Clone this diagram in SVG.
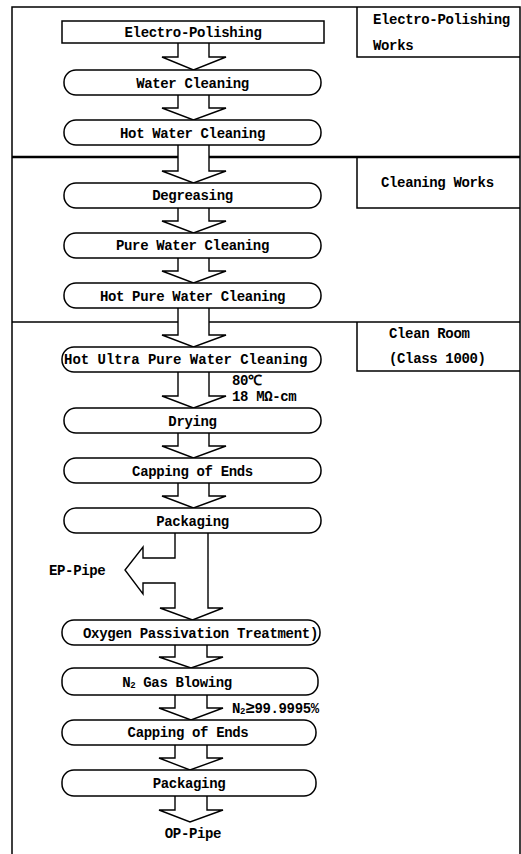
<svg xmlns="http://www.w3.org/2000/svg" width="521" height="854" viewBox="0 0 521 854">
<style>
.t{font-family:"Liberation Mono","DejaVu Sans Mono",monospace;font-weight:bold;font-size:14px;letter-spacing:-0.35px;fill:#000}
.c{text-anchor:middle}
.b{fill:#fff;stroke:#000;stroke-width:1.5}
.ln{stroke:#000;stroke-width:1.5;fill:none}
.ar{fill:#fff;stroke:#000;stroke-width:1.4;stroke-linejoin:miter}
</style>
<rect width="521" height="854" fill="#fff"/>
<g id="frame">
<path class="ln" d="M12,854 V7 H520 V854"/>
<line x1="12" y1="157" x2="520" y2="157" stroke="#000" stroke-width="2.5"/>
<line x1="12" y1="322" x2="520" y2="322" stroke="#000" stroke-width="1.5"/>
<path class="ln" d="M357,7 V57 H520"/>
<path class="ln" d="M357,157 V208 H520"/>
<path class="ln" d="M357,322 V371 H520"/>
</g>
<g id="labels">
<text class="t" x="373" y="24">Electro-Polishing</text>
<text class="t" x="373" y="50">Works</text>
<text class="t" x="381" y="187">Cleaning Works</text>
<text class="t" x="389" y="338">Clean Room</text>
<text class="t" x="389" y="363">(Class 1000)</text>
</g>
<g id="connectors">
<path class="ar" d="M178,43 V57 H162 L193.5,70 L226,57 H209 V43"/>
<path class="ar" d="M178,95 V108 H162 L193.5,120 L226,108 H209 V95"/>
<path class="ar" d="M178,145 V171 H162 L193.5,183 L226,171 H209 V145"/>
<path class="ar" d="M178,208 V221 H162 L193.5,233 L226,221 H209 V208"/>
<path class="ar" d="M178,258 V271 H162 L193.5,283 L226,271 H209 V258"/>
<path class="ar" d="M178,308 V335 H162 L193.5,347 L226,335 H209 V308"/>
<path class="ar" d="M178,372 V396 H162 L193.5,408 L226,396 H209 V372"/>
<path class="ar" d="M178,433 V446 H162 L193.5,458 L226,446 H209 V433"/>
<path class="ar" d="M178,483 V496 H162 L193.5,508 L226,496 H209 V483"/>
<path class="ar" d="M175,533 V558 H143 V547 L125,570 L143,594 V583 H175 V608 H160 L192.5,620 L223,608 H208 V533"/>
<path class="ar" d="M175,645 V657 H159 L191,668 L223,657 H207 V645"/>
<path class="ar" d="M175,695 V708 H159 L191,720 L223,708 H207 V695"/>
<path class="ar" d="M175,745 V758 H159 L190,770 L223,758 H207 V745"/>
<path class="ar" d="M175,796 V810 H159 L190,822 L223,810 H207 V796"/>
<text class="t" x="232" y="385">80℃</text>
<text class="t" x="232" y="401">18 MΩ-cm</text>
<text class="t" x="49" y="575">EP-Pipe</text>
<text class="t" x="232" y="713">N<tspan font-size="9" dy="1">2</tspan><tspan dy="-1" font-size="16">≥</tspan>99.9995%</text>
<text class="t c" x="193" y="838">OP-Pipe</text>
</g>
<g id="n1"><rect class="b" x="62" y="21" width="262" height="22"/><text class="t c" x="193" y="37">Electro-Polishing</text></g>
<g id="n2"><rect class="b" x="64" y="70" width="257" height="25" rx="12"/><text class="t c" x="192.5" y="87.5">Water Cleaning</text></g>
<g id="n3"><rect class="b" x="64" y="120" width="257" height="25" rx="12"/><text class="t c" x="192.5" y="137.5">Hot Water Cleaning</text></g>
<g id="n4"><rect class="b" x="64" y="183" width="257" height="25" rx="12"/><text class="t c" x="192.5" y="200">Degreasing</text></g>
<g id="n5"><rect class="b" x="64" y="233" width="257" height="25" rx="12"/><text class="t c" x="192.5" y="250">Pure Water Cleaning</text></g>
<g id="n6"><rect class="b" x="64" y="283" width="257" height="25" rx="12"/><text class="t c" x="192.5" y="300.5">Hot Pure Water Cleaning</text></g>
<g id="n7"><rect class="b" x="62" y="347" width="259" height="25" rx="12"/><text class="t" x="64" y="364" textLength="243">Hot Ultra Pure Water Cleaning</text></g>
<g id="n8"><rect class="b" x="64" y="408" width="257" height="25" rx="12"/><text class="t c" x="192.5" y="426">Drying</text></g>
<g id="n9"><rect class="b" x="64" y="458" width="257" height="25" rx="12"/><text class="t c" x="192.5" y="476">Capping of Ends</text></g>
<g id="n10"><rect class="b" x="64" y="508" width="257" height="25" rx="12"/><text class="t c" x="192.5" y="526">Packaging</text></g>
<g id="n11"><rect class="b" x="62" y="620" width="258" height="25" rx="12"/><text class="t" x="83" y="637.5" textLength="235">Oxygen Passivation Treatment)</text></g>
<g id="n12"><rect class="b" x="62" y="668" width="256" height="27" rx="12"/><text class="t c" x="177" y="687">N<tspan font-size="9" dy="1">2</tspan><tspan dy="-1"> Gas Blowing</tspan></text></g>
<g id="n13"><rect class="b" x="62" y="720" width="254" height="25" rx="12"/><text class="t c" x="188" y="736.5">Capping of Ends</text></g>
<g id="n14"><rect class="b" x="62" y="770" width="254" height="26" rx="12"/><text class="t c" x="189" y="788">Packaging</text></g>
</svg>
